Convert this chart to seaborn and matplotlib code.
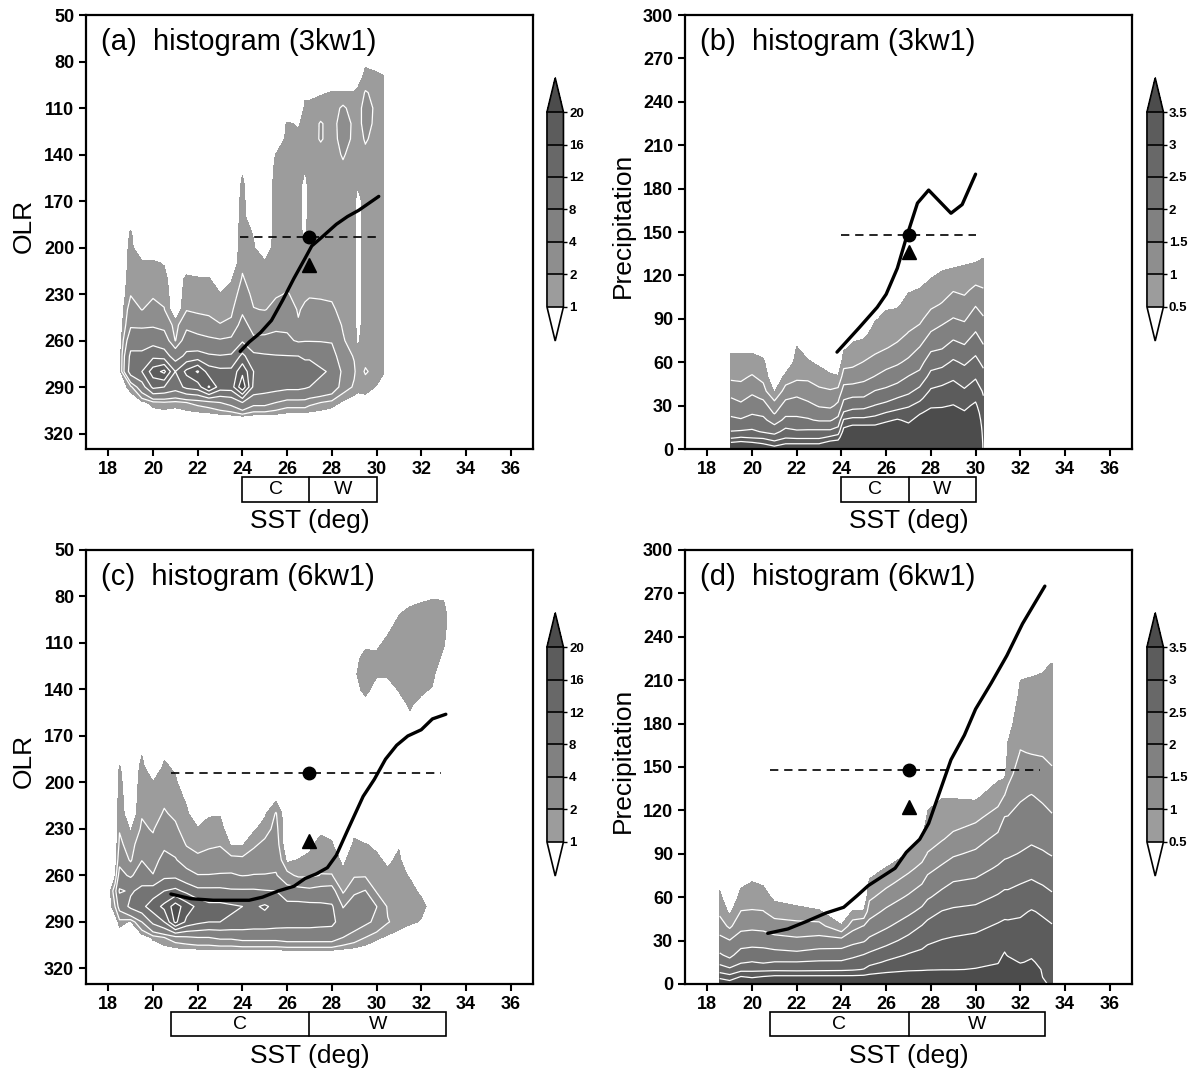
import numpy as np
import matplotlib
matplotlib.use("Agg")
import matplotlib.pyplot as plt
import matplotlib.transforms as mtransforms
from matplotlib.colors import ListedColormap, BoundaryNorm
from matplotlib.cm import ScalarMappable
from matplotlib.patches import Rectangle
import seaborn as sns

# ---------------- data ----------------
# OLR histograms (panels a, c): one list per SST column, values at olr_rows
olr_rows = [80, 90, 100, 110, 120, 130, 140, 150, 160, 170, 180, 190,
            200, 210, 220, 230, 240, 250, 260, 270, 280, 290, 300, 310]

sst_a = [18.5, 19.0, 19.5, 20.0, 20.5, 21.0, 21.5, 22.0, 22.5, 23.0, 23.5, 24.0, 24.5,
         25.0, 25.5, 26.0, 26.5, 26.8, 27.0, 27.5, 28.0, 28.5, 29.0, 29.15, 29.5, 30.0, 30.3, 30.5]
hist_a = [
    [0, 0, 0, 0, 0, 0, 0, 0, 0, 0, 0, 0, 0, 0, 0, 0, 0, 0, 0, 0, 0, 0, 0, 0],
    [0, 0, 0, 0, 0, 0, 0, 0, 0, 0, 0, 1.1, 1.3, 1.4, 1.6, 1.9, 2.8, 3.6, 6, 9, 10, 1.5, 0, 0],
    [0, 0, 0, 0, 0, 0, 0, 0, 0, 0, 0, 0, 0, 1.2, 1.5, 1.7, 1.95, 3.5, 6, 9, 12, 6, 0.5, 0],
    [0, 0, 0, 0, 0, 0, 0, 0, 0, 0, 0, 0, 0, 1.2, 1.5, 1.8, 2.5, 3.6, 6.5, 11, 18, 13, 1.5, 0],
    [0, 0, 0, 0, 0, 0, 0, 0, 0, 0, 0, 0, 0, 0.9, 1.4, 1.7, 2.05, 3.2, 5.5, 10, 21, 12, 1.8, 0],
    [0, 0, 0, 0, 0, 0, 0, 0, 0, 0, 0, 0, 0, 0, 0, 0, 0, 1.5, 1.9, 6, 12, 10, 1.5, 0],
    [0, 0, 0, 0, 0, 0, 0, 0, 0, 0, 0, 0, 0, 0, 1.3, 1.6, 1.9, 3.3, 5.5, 9, 17, 13, 2, 0],
    [0, 0, 0, 0, 0, 0, 0, 0, 0, 0, 0, 0, 0, 0, 1.1, 1.5, 1.8, 2.6, 5, 9.5, 20.5, 14, 2.5, 0],
    [0, 0, 0, 0, 0, 0, 0, 0, 0, 0, 0, 0, 0, 0, 1.1, 1.5, 1.8, 2.3, 4.5, 8.5, 14, 20.5, 3, 0],
    [0, 0, 0, 0, 0, 0, 0, 0, 0, 0, 0, 0, 0, 0, 0, 1.05, 1.6, 2.05, 4.2, 8.2, 13, 14, 4, 0],
    [0, 0, 0, 0, 0, 0, 0, 0, 0, 0, 0, 0, 0, 0, 0.9, 1.3, 1.7, 2.3, 4.5, 8.5, 13, 14, 5, 0],
    [0, 0, 0, 0, 0, 0, 0, 0.9, 1.2, 1.3, 1.4, 1.5, 1.6, 1.8, 2.1, 2.6, 3.5, 5, 7.5, 13, 19, 23, 8, 0],
    [0, 0, 0, 0, 0, 0, 0, 0, 0, 0, 0, 0.9, 1.1, 1.3, 1.5, 1.7, 2.05, 3, 4.5, 9, 12, 11, 5, 0],
    [0, 0, 0, 0, 0, 0, 0, 0, 0, 0, 0, 0, 0, 1.2, 1.4, 1.7, 1.95, 3, 4.6, 8.5, 11, 10, 5, 0],
    [0, 0, 0, 0, 0, 0, 1.05, 1.3, 1.4, 1.5, 1.5, 1.5, 1.6, 1.7, 1.8, 1.9, 2.3, 3.3, 5, 8.2, 10.5, 9.5, 4, 0],
    [0, 0, 0, 0, 1.1, 1.3, 1.4, 1.5, 1.5, 1.5, 1.5, 1.6, 1.6, 1.7, 1.8, 2.05, 2.6, 3.4, 4.6, 8.1, 10, 9, 3, 0],
    [0, 0, 0, 0, 0.9, 1.2, 1.4, 1.5, 1.5, 1.5, 1.5, 1.5, 1.6, 1.6, 1.7, 1.8, 1.9, 2.1, 3.6, 8, 10, 9, 3, 0],
    [0, 0, 0.8, 1.2, 1.3, 1.3, 1.2, 1.0, 0.5, 0.5, 0.5, 0.6, 1.1, 1.4, 1.6, 1.8, 2.2, 2.8, 3.8, 7.5, 9.5, 8.5, 3, 0],
    [0, 0, 0.8, 1.2, 1.4, 1.5, 1.5, 1.5, 1.5, 1.5, 1.6, 1.6, 1.7, 1.7, 1.8, 1.9, 2.3, 3.0, 3.8, 7.5, 9.5, 8, 2.5, 0],
    [0, 0, 0.9, 1.4, 2.1, 2.1, 1.6, 1.5, 1.5, 1.5, 1.6, 1.6, 1.7, 1.7, 1.8, 1.9, 2.2, 2.8, 3.8, 6.5, 8.5, 7, 2, 0],
    [0, 0, 1.05, 1.5, 1.6, 1.6, 1.6, 1.6, 1.6, 1.7, 1.7, 1.7, 1.8, 1.8, 1.8, 1.9, 2.1, 2.6, 3.8, 5, 7.5, 6, 1.5, 0],
    [0, 0, 1.1, 2.2, 2.5, 2.4, 2.1, 1.8, 1.6, 1.6, 1.6, 1.7, 1.7, 1.7, 1.8, 1.8, 1.8, 1.9, 2.1, 2.6, 3.2, 2.8, 0.8, 0],
    [0, 0, 1.05, 1.5, 1.8, 1.8, 1.6, 1.4, 1.3, 1.3, 1.3, 1.3, 1.3, 1.3, 1.3, 1.4, 1.4, 1.5, 1.5, 1.9, 2.2, 1.8, 0.3, 0],
    [0, 0.5, 1.2, 1.6, 1.7, 1.6, 1.4, 1.2, 1.05, 0.5, 0.5, 0.5, 0.5, 0.5, 0.5, 0.5, 0.5, 0.5, 0.8, 1.3, 1.5, 1.4, 0.3, 0],
    [0.8, 1.3, 2.1, 2.4, 2.3, 2.1, 1.8, 1.6, 1.5, 1.5, 1.5, 1.5, 1.5, 1.5, 1.5, 1.5, 1.5, 1.6, 1.6, 1.7, 2.1, 1.6, 0.3, 0],
    [0.6, 1.2, 1.7, 1.8, 1.8, 1.7, 1.6, 1.5, 1.5, 1.5, 1.5, 1.5, 1.5, 1.5, 1.5, 1.5, 1.5, 1.5, 1.5, 1.6, 1.7, 0.9, 0, 0],
    [0, 1.1, 1.2, 1.2, 1.2, 1.2, 1.2, 1.2, 1.2, 1.2, 1.2, 1.2, 1.2, 1.2, 1.2, 1.2, 1.2, 1.2, 1.2, 1.2, 1.1, 0.5, 0, 0],
    [0, 0, 0, 0, 0, 0, 0, 0, 0, 0, 0, 0, 0, 0, 0, 0, 0, 0, 0, 0, 0, 0, 0, 0],
]

sst_c = [18.0, 18.3, 18.5, 19.0, 19.5, 20.0, 20.5, 21.0, 21.5, 22.0, 22.5, 23.0, 23.5, 24.0, 24.5,
         25.0, 25.5, 26.0, 26.5, 27.0, 27.5, 28.0, 28.5, 29.0, 29.5, 30.0, 30.5, 31.0, 31.5,
         32.0, 32.5, 33.0, 33.5]
hist_c = [
    [0, 0, 0, 0, 0, 0, 0, 0, 0, 0, 0, 0, 0, 0, 0, 0, 0, 0, 0, 0, 0, 0, 0, 0],
    [0, 0, 0, 0, 0, 0, 0, 0, 0, 0, 0, 0, 0, 0, 0, 0, 0, 0, 0.8, 3, 2, 0, 0, 0],
    [0, 0, 0, 0, 0, 0, 0, 0, 0, 0, 0, 1.1, 1.3, 1.5, 1.7, 1.9, 2.3, 3.2, 5, 8.5, 5, 1.5, 0, 0],
    [0, 0, 0, 0, 0, 0, 0, 0, 0, 0, 0, 0, 0, 0, 0, 0.9, 1.4, 1.8, 3.5, 7.5, 9, 0.8, 0, 0],
    [0, 0, 0, 0, 0, 0, 0, 0, 0, 0, 0.9, 1.3, 1.5, 1.7, 1.9, 2.2, 3, 3.9, 6, 9, 11, 4, 0.2, 0],
    [0, 0, 0, 0, 0, 0, 0, 0, 0, 0, 0, 0, 1.05, 1.3, 1.6, 1.9, 2.3, 3.1, 4.1, 10, 14, 9, 1.2, 0],
    [0, 0, 0, 0, 0, 0, 0, 0, 0, 0, 0.7, 1.2, 1.5, 1.8, 2.1, 2.8, 3.5, 4.8, 7, 12, 17, 12, 2, 0],
    [0, 0, 0, 0, 0, 0, 0, 0, 0, 0, 0, 0.8, 1.2, 1.5, 1.8, 2.2, 3, 4.2, 7, 13, 22, 21, 3, 0],
    [0, 0, 0, 0, 0, 0, 0, 0, 0, 0, 0, 0, 0, 0.8, 1.2, 1.5, 1.9, 2.8, 5, 11, 18, 15, 3.5, 0],
    [0, 0, 0, 0, 0, 0, 0, 0, 0, 0, 0, 0, 0, 0, 0, 1.1, 1.6, 2.3, 4.1, 9, 15, 13, 4, 0],
    [0, 0, 0, 0, 0, 0, 0, 0, 0, 0, 0, 0, 0, 0, 0.9, 1.3, 1.8, 2.5, 4.1, 9, 13, 12, 4, 0],
    [0, 0, 0, 0, 0, 0, 0, 0, 0, 0, 0, 0, 0, 0, 0.9, 1.5, 1.9, 2.7, 4.2, 9, 13, 12, 4.5, 0],
    [0, 0, 0, 0, 0, 0, 0, 0, 0, 0, 0, 0, 0, 0, 0, 0, 0.9, 2.4, 4.3, 8.5, 12.5, 11.5, 4.5, 0],
    [0, 0, 0, 0, 0, 0, 0, 0, 0, 0, 0, 0, 0, 0, 0, 0, 0.9, 2.3, 3.9, 8.5, 12, 11, 5, 0],
    [0, 0, 0, 0, 0, 0, 0, 0, 0, 0, 0, 0, 0, 0, 0, 0.8, 1.8, 2.6, 4.1, 8.5, 11.5, 10.5, 5, 0],
    [0, 0, 0, 0, 0, 0, 0, 0, 0, 0, 0, 0, 0, 0, 0.8, 1.5, 2.3, 3, 4.1, 8.2, 12.5, 10.5, 5, 0],
    [0, 0, 0, 0, 0, 0, 0, 0, 0, 0, 0, 0, 0, 0.7, 2.1, 2.4, 2.7, 3.2, 4.2, 8, 11, 10, 5, 0],
    [0, 0, 0, 0, 0, 0, 0, 0, 0, 0, 0, 0, 0, 0, 0, 0, 0, 0.7, 2.5, 5, 9.5, 9.5, 5.5, 0],
    [0, 0, 0, 0, 0, 0, 0, 0, 0, 0, 0, 0, 0, 0, 0, 0, 0, 1.05, 1.7, 4.8, 9.5, 9.5, 5.5, 0],
    [0, 0, 0, 0, 0, 0, 0, 0, 0, 0, 0, 0, 0, 0, 0, 0, 0.8, 1.2, 1.7, 4.5, 9.2, 9.5, 5.5, 0],
    [0, 0, 0, 0, 0, 0, 0, 0, 0, 0, 0, 0, 0, 0, 0, 0.8, 1.3, 1.6, 2.05, 4.8, 9, 9.2, 5.5, 0],
    [0, 0, 0, 0, 0, 0, 0, 0, 0, 0, 0, 0, 0, 0, 0, 0.7, 1.1, 1.5, 2.05, 5, 8.5, 9, 5.5, 0],
    [0, 0, 0, 0, 0, 0, 0, 0, 0, 0, 0, 0, 0, 0, 0, 0, 0, 0.8, 1.2, 1.7, 3.8, 6, 4, 0],
    [0, 0, 0, 0, 0.6, 0.8, 0.6, 0, 0, 0, 0, 0, 0, 0, 0, 0.7, 1.2, 1.5, 1.8, 3.5, 5.5, 5.5, 3, 0],
    [0, 0, 0, 0.7, 1.4, 1.6, 1.3, 0.6, 0, 0, 0, 0, 0, 0, 0, 0, 1.05, 1.4, 1.8, 4.1, 5, 4.5, 2, 0],
    [0, 0, 0, 0.8, 1.2, 1.1, 0.6, 0, 0, 0, 0, 0, 0, 0, 0, 0, 0.8, 1.2, 1.5, 1.8, 4.05, 3.5, 1.2, 0],
    [0, 0, 0.8, 1.2, 1.4, 1.1, 0.7, 0, 0, 0, 0, 0, 0, 0, 0, 0, 0, 0.8, 1.2, 1.4, 1.8, 2.1, 0.8, 0],
    [0, 0.9, 1.3, 1.5, 1.5, 1.4, 1.05, 0.7, 0, 0, 0, 0, 0, 0, 0, 0, 0.9, 1.2, 1.3, 1.5, 1.6, 1.5, 0.5, 0],
    [0.6, 1.2, 1.5, 1.6, 1.6, 1.5, 1.3, 1.1, 0.8, 0, 0, 0, 0, 0, 0, 0, 0, 0, 0.9, 1.3, 1.4, 1.2, 0, 0],
    [0.8, 1.3, 1.5, 1.5, 1.5, 1.4, 1.2, 0.7, 0, 0, 0, 0, 0, 0, 0, 0, 0, 0, 0, 0.8, 1.3, 0.9, 0, 0],
    [0.9, 1.4, 1.5, 1.5, 1.4, 1.3, 0.9, 0, 0, 0, 0, 0, 0, 0, 0, 0, 0, 0, 0, 0, 0.6, 0, 0, 0],
    [0.9, 1.3, 1.3, 1.1, 0.8, 0, 0, 0, 0, 0, 0, 0, 0, 0, 0, 0, 0, 0, 0, 0, 0, 0, 0, 0],
    [0, 0, 0, 0, 0, 0, 0, 0, 0, 0, 0, 0, 0, 0, 0, 0, 0, 0, 0, 0, 0, 0, 0, 0],
]

# precipitation histograms (panels b, d)
prcp_rows_b = [0, 4, 8, 12, 16, 20, 25, 30, 35, 40, 50, 60, 70, 80, 90, 100, 110, 120, 130, 140]
sst_b = [19.05, 19.5, 20.0, 20.5, 21.0, 21.5, 22.0, 22.5, 23.0, 23.5, 23.85, 24.1, 24.5,
         25.0, 25.5, 26.0, 26.5, 27.0, 27.5, 28.0, 28.5, 29.0, 29.5, 30.0, 30.35]
hist_b = [
    [4.2, 3.6, 2.9, 2.52, 2.3, 2.1, 1.9, 1.7, 1.52, 1.3, 0.9, 0.65, 0.4, 0.1, 0, 0, 0, 0, 0, 0],
    [4.3, 3.7, 3.02, 2.55, 2.3, 2.05, 1.8, 1.6, 1.4, 1.2, 0.9, 0.65, 0.4, 0.1, 0, 0, 0, 0, 0, 0],
    [4.2, 3.6, 2.95, 2.6, 2.35, 2.2, 1.95, 1.75, 1.6, 1.4, 1.05, 0.7, 0.37, 0.05, 0, 0, 0, 0, 0, 0],
    [4.0, 3.45, 2.9, 2.45, 2.3, 2.1, 1.9, 1.7, 1.45, 1.2, 0.85, 0.58, 0.3, 0.05, 0, 0, 0, 0, 0, 0],
    [3.8, 3.2, 2.7, 2.35, 2.05, 1.8, 1.45, 1.2, 0.9, 0.45, 0, 0, 0, 0, 0, 0, 0, 0, 0, 0],
    [4.0, 3.45, 2.95, 2.65, 2.4, 2.1, 1.9, 1.7, 1.45, 1.25, 0.65, 0, 0, 0, 0, 0, 0, 0, 0, 0],
    [4.0, 3.45, 2.9, 2.6, 2.25, 2.1, 1.9, 1.7, 1.55, 1.3, 0.9, 0.72, 0.52, 0.3, 0.1, 0, 0, 0, 0, 0],
    [4.0, 3.45, 2.9, 2.6, 2.3, 2.05, 1.85, 1.65, 1.4, 1.25, 0.9, 0.56, 0.25, 0, 0, 0, 0, 0, 0, 0],
    [4.0, 3.45, 2.9, 2.6, 2.3, 1.95, 1.75, 1.45, 1.3, 1.1, 0.75, 0.4, 0, 0, 0, 0, 0, 0, 0, 0],
    [4.2, 3.75, 3.1, 2.6, 2.3, 1.95, 1.7, 1.4, 1.25, 1.05, 0.6, 0.15, 0, 0, 0, 0, 0, 0, 0, 0],
    [4.2, 3.8, 3.25, 2.75, 2.45, 2.15, 1.85, 1.6, 1.4, 1.15, 0.55, 0, 0, 0, 0, 0, 0, 0, 0, 0],
    [4.6, 4.3, 4.0, 3.7, 3.4, 3.05, 2.55, 2.2, 1.95, 1.7, 1.25, 0.8, 0.42, 0, 0, 0, 0, 0, 0, 0],
    [4.6, 4.35, 4.05, 3.8, 3.55, 3.15, 2.7, 2.3, 2.05, 1.75, 1.25, 0.87, 0.6, 0.34, 0.08, 0, 0, 0, 0, 0],
    [4.6, 4.35, 4.05, 3.8, 3.55, 3.15, 2.7, 2.35, 2.05, 1.8, 1.35, 1.02, 0.7, 0.37, 0.06, 0, 0, 0, 0, 0],
    [4.6, 4.35, 4.05, 3.8, 3.55, 3.2, 2.85, 2.52, 2.25, 2.02, 1.52, 1.15, 0.88, 0.67, 0.46, 0.25, 0.04, 0, 0, 0],
    [4.7, 4.45, 4.2, 3.95, 3.7, 3.4, 3.02, 2.65, 2.35, 2.1, 1.7, 1.3, 0.98, 0.8, 0.6, 0.43, 0.24, 0.05, 0, 0],
    [4.7, 4.45, 4.2, 4.0, 3.75, 3.55, 3.15, 2.8, 2.52, 2.25, 1.8, 1.43, 1.1, 0.85, 0.65, 0.44, 0.23, 0.02, 0, 0],
    [4.6, 4.35, 4.1, 3.85, 3.6, 3.4, 3.2, 2.95, 2.65, 2.4, 2.02, 1.6, 1.28, 1.02, 0.82, 0.64, 0.46, 0.28, 0.1, 0],
    [4.8, 4.6, 4.35, 4.15, 3.95, 3.7, 3.45, 3.15, 2.9, 2.65, 2.15, 1.83, 1.52, 1.17, 0.9, 0.7, 0.52, 0.3, 0.1, 0],
    [4.9, 4.7, 4.5, 4.3, 4.1, 3.9, 3.65, 3.43, 3.25, 3.07, 2.67, 2.27, 1.9, 1.54, 1.2, 0.9, 0.68, 0.45, 0.23, 0],
    [4.9, 4.7, 4.5, 4.3, 4.1, 3.9, 3.65, 3.45, 3.3, 3.15, 2.77, 2.35, 1.97, 1.68, 1.37, 1.03, 0.8, 0.57, 0.34, 0],
    [5.0, 4.8, 4.6, 4.4, 4.2, 4.0, 3.75, 3.52, 3.35, 3.2, 2.93, 2.57, 2.2, 1.83, 1.52, 1.24, 0.97, 0.66, 0.35, 0],
    [4.8, 4.6, 4.4, 4.2, 4.0, 3.8, 3.55, 3.38, 3.22, 3.06, 2.75, 2.43, 2.07, 1.75, 1.44, 1.17, 0.9, 0.67, 0.43, 0],
    [5.0, 4.8, 4.6, 4.45, 4.25, 4.05, 3.83, 3.6, 3.4, 3.25, 2.95, 2.64, 2.33, 2.03, 1.75, 1.46, 1.11, 0.78, 0.47, 0.1],
    [3.4, 3.38, 3.34, 3.3, 3.25, 3.2, 3.13, 3.08, 3.03, 2.95, 2.67, 2.38, 2.06, 1.8, 1.55, 1.29, 1.03, 0.79, 0.55, 0.31],
]

prcp_rows_d = [0, 5, 10, 15, 20, 30, 40, 50, 60, 70, 80, 90, 100, 115, 130, 145, 160, 180, 200, 220, 240]
sst_d = [18.55, 19.0, 19.5, 20.0, 20.5, 21.0, 22.0, 23.0, 24.0, 24.5, 25.0, 25.25, 26.0,
         27.0, 27.6, 27.85, 28.5, 29.0, 30.0, 31.0, 31.3, 31.45, 32.0, 32.5, 33.0, 33.42]
hist_d = [
    [4.0, 3.33, 2.75, 2.38, 2.06, 1.65, 1.25, 0.89, 0.63, 0.37, 0.11, 0, 0, 0, 0, 0, 0, 0, 0, 0, 0],
    [3.8, 3.17, 2.6, 2.17, 1.88, 1.52, 0.9, 0.4, 0, 0, 0, 0, 0, 0, 0, 0, 0, 0, 0, 0, 0],
    [4.0, 3.52, 2.83, 2.45, 2.2, 1.75, 1.36, 1.02, 0.69, 0.38, 0.06, 0, 0, 0, 0, 0, 0, 0, 0, 0, 0],
    [4.0, 3.42, 2.86, 2.52, 2.25, 1.79, 1.39, 1.04, 0.76, 0.52, 0.24, 0, 0, 0, 0, 0, 0, 0, 0, 0, 0],
    [4.0, 3.52, 2.86, 2.45, 2.23, 1.77, 1.36, 1.02, 0.72, 0.44, 0.17, 0, 0, 0, 0, 0, 0, 0, 0, 0, 0],
    [4.1, 3.6, 2.88, 2.52, 2.19, 1.68, 1.23, 0.79, 0.38, 0, 0, 0, 0, 0, 0, 0, 0, 0, 0, 0, 0],
    [4.1, 3.6, 2.86, 2.52, 2.14, 1.6, 1.17, 0.7, 0.2, 0, 0, 0, 0, 0, 0, 0, 0, 0, 0, 0, 0],
    [4.1, 3.6, 2.88, 2.56, 2.25, 1.67, 1.18, 0.57, 0, 0, 0, 0, 0, 0, 0, 0, 0, 0, 0, 0, 0],
    [4.1, 3.6, 2.9, 2.57, 2.25, 1.7, 0.55, 0, 0, 0, 0, 0, 0, 0, 0, 0, 0, 0, 0, 0, 0],
    [4.1, 3.6, 2.94, 2.67, 2.39, 1.85, 1.33, 0.55, 0, 0, 0, 0, 0, 0, 0, 0, 0, 0, 0, 0, 0],
    [4.2, 3.62, 3.02, 2.75, 2.52, 1.95, 1.52, 0.55, 0, 0, 0, 0, 0, 0, 0, 0, 0, 0, 0, 0, 0],
    [4.2, 3.66, 3.18, 2.85, 2.6, 2.1, 1.69, 1.29, 0.9, 0.57, 0.3, 0.03, 0, 0, 0, 0, 0, 0, 0, 0, 0],
    [4.3, 3.73, 3.33, 3.06, 2.8, 2.33, 1.93, 1.6, 1.23, 0.86, 0.52, 0.15, 0, 0, 0, 0, 0, 0, 0, 0, 0],
    [4.4, 3.84, 3.42, 3.23, 3.04, 2.65, 2.27, 1.9, 1.57, 1.23, 0.88, 0.52, 0.12, 0, 0, 0, 0, 0, 0, 0, 0],
    [4.5, 3.88, 3.44, 3.28, 3.13, 2.81, 2.52, 2.12, 1.78, 1.47, 1.13, 0.81, 0.52, 0.05, 0, 0, 0, 0, 0, 0, 0],
    [4.5, 3.91, 3.46, 3.32, 3.19, 2.92, 2.64, 2.31, 1.94, 1.67, 1.36, 1.02, 0.83, 0.58, 0.33, 0, 0, 0, 0, 0, 0],
    [4.5, 3.94, 3.48, 3.36, 3.24, 3.02, 2.75, 2.52, 2.17, 1.86, 1.58, 1.27, 0.97, 0.72, 0.47, 0.1, 0, 0, 0, 0, 0],
    [4.6, 3.99, 3.48, 3.38, 3.27, 3.06, 2.83, 2.58, 2.29, 2.02, 1.72, 1.44, 1.13, 0.77, 0.46, 0.1, 0, 0, 0, 0, 0],
    [4.7, 4.1, 3.52, 3.4, 3.31, 3.12, 2.89, 2.63, 2.36, 2.08, 1.83, 1.58, 1.32, 0.9, 0.4, 0, 0, 0, 0, 0, 0],
    [4.8, 4.26, 3.72, 3.45, 3.37, 3.21, 3.05, 2.82, 2.55, 2.3, 2.05, 1.83, 1.63, 1.22, 0.78, 0.36, 0, 0, 0, 0, 0],
    [4.6, 4.34, 4.08, 3.81, 3.55, 3.31, 3.1, 2.88, 2.63, 2.38, 2.13, 1.92, 1.75, 1.52, 1.02, 0.38, 0, 0, 0, 0, 0],
    [4.6, 4.29, 3.99, 3.68, 3.46, 3.28, 3.09, 2.88, 2.63, 2.38, 2.14, 1.94, 1.77, 1.53, 1.14, 0.85, 0.62, 0.3, 0, 0, 0],
    [4.5, 4.12, 3.73, 3.47, 3.4, 3.25, 3.1, 2.93, 2.7, 2.48, 2.24, 2.02, 1.86, 1.65, 1.44, 1.22, 1.02, 0.8, 0.6, 0.4, 0.1],
    [4.5, 4.19, 3.88, 3.56, 3.44, 3.31, 3.17, 3.03, 2.8, 2.55, 2.33, 2.11, 1.93, 1.71, 1.52, 1.23, 0.98, 0.8, 0.61, 0.43, 0.1],
    [3.6, 3.49, 3.43, 3.38, 3.32, 3.2, 3.09, 2.95, 2.7, 2.46, 2.25, 2.04, 1.88, 1.65, 1.42, 1.17, 0.96, 0.79, 0.62, 0.46, 0.1],
    [3.4, 3.35, 3.3, 3.26, 3.21, 3.12, 3.03, 2.83, 2.58, 2.36, 2.16, 1.97, 1.8, 1.55, 1.3, 1.05, 0.92, 0.78, 0.64, 0.52, 0.3],
]

# mean curves
curve_a_sst = [23.9, 24.3, 24.8, 25.3, 25.8, 26.3, 26.8, 27.1, 27.5, 28.2, 28.7, 29.2, 29.6, 30.1]
curve_a_olr = [267, 261, 255, 247, 234, 220, 207, 199, 194, 185, 180, 176, 172, 167]
curve_b_sst = [23.8, 24.8, 25.6, 26.0, 26.5, 26.9, 27.4, 27.9, 28.9, 29.4, 30.0]
curve_b_prcp = [67, 84, 98, 107, 125, 146, 170, 179, 163, 169, 190]
curve_c_sst = [20.8, 21.7, 22.7, 24.3, 24.9, 25.6, 26.3, 26.8, 27.3, 27.8, 28.2, 28.7, 29.4,
               29.9, 30.4, 30.9, 31.4, 32.0, 32.5, 33.1]
curve_c_olr = [272, 275, 276, 276, 274, 270, 267, 262, 259, 255, 247, 231, 209, 198, 185, 176,
               170, 166, 159, 156]
curve_d_sst = [20.7, 21.6, 22.4, 23.3, 24.1, 24.7, 25.2, 25.9, 26.4, 26.9, 27.5, 27.9, 28.4,
               28.9, 29.5, 30.0, 30.7, 31.4, 32.1, 32.6, 33.1]
curve_d_prcp = [35, 38, 43, 49, 53, 61, 68, 75, 80, 91, 100, 111, 133, 155, 172, 190, 208, 227,
                249, 262, 275]

# reference line, circle and triangle (dashed y, x start, x end, circle y, triangle y)
ref_a = (193.5, 23.9, 30.0, 193.5, 211)
ref_b = (148, 24.0, 30.0, 148, 136)
ref_c = (194, 20.8, 32.9, 194, 238)
ref_d = (148, 20.8, 32.9, 148, 122)

# cold / warm boxes: start, split, end
box_a = (24.0, 27.0, 30.0)
box_b = (24.0, 27.0, 30.0)
box_c = (20.8, 27.0, 33.1)
box_d = (20.8, 27.0, 33.1)

olr_levels = [1, 2, 4, 8, 12, 16, 20]
olr_level_labels = ["1", "2", "4", "8", "12", "16", "20"]
prcp_levels = [0.5, 1, 1.5, 2, 2.5, 3, 3.5]
prcp_level_labels = ["0.5", "1", "1.5", "2", "2.5", "3", "3.5"]

olr_ticks = [50, 80, 110, 140, 170, 200, 230, 260, 290, 320]
prcp_ticks = [0, 30, 60, 90, 120, 150, 180, 210, 240, 270, 300]
sst_ticks = [18, 20, 22, 24, 26, 28, 30, 32, 34, 36]

# ---------------- style ----------------
sns.set_style("ticks")
plt.rcParams["font.family"] = ["Liberation Sans", "DejaVu Sans"]
plt.rcParams["text.color"] = "black"
plt.rcParams["axes.labelcolor"] = "black"
plt.rcParams["xtick.color"] = "black"
plt.rcParams["ytick.color"] = "black"
plt.rcParams["axes.edgecolor"] = "black"

grays = ["#9c9c9c", "#8e8e8e", "#818181", "#747474", "#686868", "#5c5c5c"]
cmap = ListedColormap(grays).with_extremes(under="white", over="#4c4c4c")

fig = plt.figure(figsize=(11.94, 10.75), dpi=100)

ax_pos = {"a": [0.0720, 0.5823, 0.3744, 0.4037], "b": [0.5737, 0.5823, 0.3744, 0.4037],
          "c": [0.0720, 0.0847, 0.3744, 0.4037], "d": [0.5737, 0.0847, 0.3744, 0.4037]}
cb_pos = {"a": [0.4581, 0.6828, 0.0138, 0.2447], "b": [0.9606, 0.6828, 0.0138, 0.2447],
          "c": [0.4581, 0.1851, 0.0138, 0.2447], "d": [0.9606, 0.1851, 0.0138, 0.2447]}


def panel(key, sst, rows, hist, levels, level_labels, title, ylabel, curve_x, curve_y,
          ref, box, olr):
    for col in hist:
        assert len(col) == len(rows), (key, len(col))
    assert len(hist) == len(sst), key
    z = np.array(hist, dtype=float).T

    ax = fig.add_axes(ax_pos[key])
    norm = BoundaryNorm(levels, cmap.N)
    ax.contourf(sst, rows, z, levels=levels + [1000], cmap=cmap, norm=norm, extend="neither")
    ax.contour(sst, rows, z, levels=levels[1:], colors="white", linewidths=0.9)

    sns.lineplot(x=curve_x, y=curve_y, ax=ax, color="black", linewidth=2.4,
                 sort=False, estimator=None)
    dash_y, x0, x1, circ_y, tri_y = ref
    ax.plot([x0, x1], [dash_y, dash_y], color="black", lw=1.2, ls=(0, (5, 3.5)))
    ax.plot([27.0], [circ_y], "o", color="black", ms=9)
    ax.plot([27.0], [tri_y], "^", color="black", ms=10)

    ax.set_xlim(17, 37)
    ax.set_xticks(sst_ticks)
    if olr:
        ax.set_ylim(330, 50)
        ax.set_yticks(olr_ticks)
    else:
        ax.set_ylim(0, 300)
        ax.set_yticks(prcp_ticks)
    ax.set_xlabel("")
    ax.set_ylabel("")
    for s in ax.spines.values():
        s.set_linewidth(1.6)
        s.set_color("black")
    ax.tick_params(direction="out", length=5, width=1.5, labelsize=13, pad=3.5,
                   top=False, right=False, color="black", labelcolor="black")
    for lab in ax.get_xticklabels() + ax.get_yticklabels():
        lab.set_fontweight("bold")

    ax.text(0.034, 0.937, title, transform=ax.transAxes, fontsize=21, ha="left", va="center")
    ax.text(-0.14, 0.515, ylabel, transform=ax.transAxes, fontsize=19, rotation=90,
            ha="center", va="center")
    ax.text(0.5, -0.166, "SST (deg)", transform=ax.transAxes, fontsize=19,
            ha="center", va="center")

    trans = mtransforms.blended_transform_factory(ax.transData, ax.transAxes)
    b0, bm, b1 = box
    ax.add_patch(Rectangle((b0, -0.121), b1 - b0, 0.056, transform=trans, fill=False,
                           lw=1.2, edgecolor="black", clip_on=False))
    ax.plot([bm, bm], [-0.121, -0.065], transform=trans, color="black", lw=1.2,
            clip_on=False)
    ax.text((b0 + bm) / 2, -0.093, "C", transform=trans, fontsize=14, ha="center", va="center")
    ax.text((bm + b1) / 2, -0.093, "W", transform=trans, fontsize=14, ha="center", va="center")

    cax = fig.add_axes(cb_pos[key])
    sm = ScalarMappable(norm=norm, cmap=cmap)
    cb = fig.colorbar(sm, cax=cax, extend="both", extendfrac=0.175, ticks=levels,
                      drawedges=True, spacing="uniform")
    cb.outline.set_linewidth(1.2)
    cb.outline.set_edgecolor("black")
    cb.dividers.set_linewidth(1.2)
    cb.dividers.set_color("black")
    cb.ax.tick_params(length=3, width=1, labelsize=9.5, pad=1, color="black",
                      labelcolor="black")
    cb.set_ticklabels(level_labels)
    for lab in cb.ax.get_yticklabels():
        lab.set_fontweight("bold")
    return ax


panel("a", sst_a, olr_rows, hist_a, olr_levels, olr_level_labels, "(a)  histogram (3kw1)",
      "OLR", curve_a_sst, curve_a_olr, ref_a, box_a, True)
panel("b", sst_b, prcp_rows_b, hist_b, prcp_levels, prcp_level_labels,
      "(b)  histogram (3kw1)", "Precipitation", curve_b_sst, curve_b_prcp, ref_b, box_b, False)
panel("c", sst_c, olr_rows, hist_c, olr_levels, olr_level_labels, "(c)  histogram (6kw1)",
      "OLR", curve_c_sst, curve_c_olr, ref_c, box_c, True)
panel("d", sst_d, prcp_rows_d, hist_d, prcp_levels, prcp_level_labels,
      "(d)  histogram (6kw1)", "Precipitation", curve_d_sst, curve_d_prcp, ref_d, box_d, False)

fig.savefig("out.png", dpi=100)
